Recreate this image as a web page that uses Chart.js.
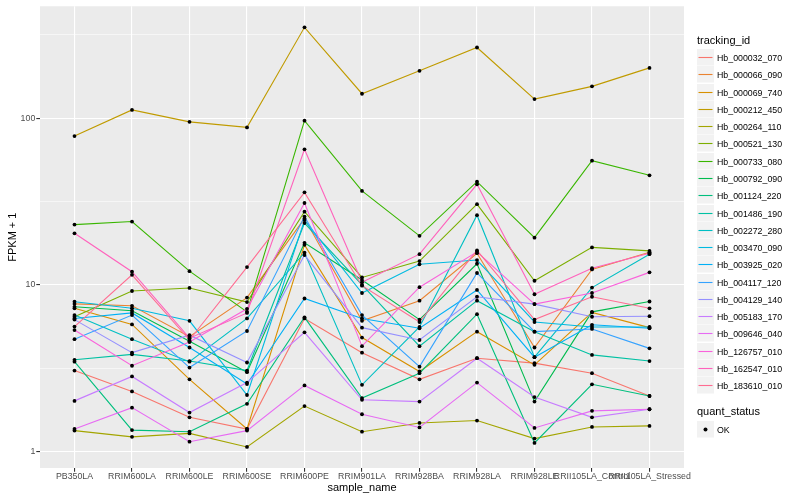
<!DOCTYPE html>
<html>
<head>
<meta charset="utf-8">
<title>FPKM + 1 by sample</title>
<script src="https://cdn.jsdelivr.net/npm/chart.js@4.4.1/dist/chart.umd.min.js"></script>
<style>
  body { margin: 0; background: #fff; }
  #wrap { position: relative; width: 800px; height: 500px; font-family: "Liberation Sans", Arial, Helvetica, sans-serif; }
  #chart { position: absolute; left: 0; top: 0; }
  .legend-title { position: absolute; left: 697px; font-size: 11px; line-height: 13px; color: #000; white-space: nowrap; }
  .legend-row { position: absolute; left: 697px; height: 17px; display: flex; align-items: center; }
  .legend-row svg { display: block; flex: none; }
  .legend-text { margin-left: 3px; font-size: 8.8px; color: #000; white-space: nowrap; }
</style>
</head>
<body>
<div id="wrap">
  <canvas id="chart" width="800" height="500"></canvas>
  <div id="legend"></div>
</div>
<script>
// Samples on the x axis
const sampleNames = ['PB350LA', 'RRIM600LA', 'RRIM600LE', 'RRIM600SE', 'RRIM600PE', 'RRIM901LA',
    'RRIM928BA', 'RRIM928LA', 'RRIM928LE', 'RRII105LA_Control', 'RRII105LA_Stressed'];

// FPKM + 1 per gene, one value per sample
const hb000032_070 = [3.07, 2.30, 1.61, 1.37, 6.3, 3.93, 2.72, 3.64, 3.4, 2.96, 2.16];
const hb000066_090 = [7.7, 7.5, 4.9, 8.4, 25, 6.1, 8.05, 15.5, 4.22, 12.4, 15.7];
const hb000069_740 = [7.25, 5.8, 2.72, 1.37, 17.4, 4.84, 3.03, 5.25, 3.32, 6.85, 5.55];
const hb000212_450 = [78, 112, 95, 88, 350, 140, 192, 265, 130, 155, 200];
const hb000264_110 = [1.34, 1.23, 1.29, 1.07, 1.88, 1.32, 1.49, 1.54, 1.2, 1.41, 1.43];
const hb000521_130 = [6.45, 9.2, 9.6, 7.9, 27.5, 11.1, 13.9, 30.5, 10.6, 16.8, 16.0];
const hb000733_080 = [23, 24, 12.1, 6.9, 96.5, 36.6, 19.7, 41.6, 19.2, 55.6, 45.4];
const hb000792_090 = [7.4, 7.0, 4.6, 3.0, 17.9, 10.7, 6.2, 13.4, 2.0, 6.9, 7.96];
const hb001124_220 = [3.47, 1.35, 1.32, 1.94, 6.4, 2.10, 2.96, 6.68, 1.13, 2.54, 2.16];
const hb001486_190 = [3.56, 3.84, 3.5, 3.07, 23.5, 10.0, 4.3, 8.05, 5.25, 3.81, 3.5];
const hb002272_280 = [6.6, 4.73, 3.47, 6.3, 15.6, 2.52, 5.6, 26.2, 3.69, 9.65, 15.3];
const hb003470_090 = [7.94, 7.25, 6.1, 2.19, 24.5, 8.95, 13.3, 14.1, 6.0, 5.6, 5.6];
const hb003925_020 = [6.3, 6.8, 4.22, 2.55, 8.3, 6.3, 5.5, 9.34, 3.69, 5.77, 5.5];
const hb004117_120 = [4.73, 6.6, 3.2, 5.3, 25.7, 6.6, 3.24, 11.8, 5.25, 5.45, 4.17];
const hb004129_140 = [6.2, 3.93, 5.0, 3.43, 15.1, 5.55, 4.68, 8.5, 7.68, 6.45, 6.5];
const hb005183_170 = [2.02, 2.83, 1.72, 2.6, 5.2, 2.05, 2.0, 3.64, 2.13, 1.61, 1.80];
const hb009646_040 = [1.37, 1.84, 1.15, 1.34, 2.5, 1.68, 1.40, 2.6, 1.39, 1.76, 1.80];
const hb126757_010 = [5.37, 3.28, 4.55, 7.2, 31, 4.3, 9.7, 15.8, 7.68, 8.95, 11.9];
const hb162547_010 = [20.4, 12.0, 4.8, 6.8, 65, 10.4, 15.3, 40.1, 8.8, 12.6, 15.5];
const hb183610_010 = [5.63, 11.5, 4.68, 12.8, 35.9, 9.9, 6.0, 16.1, 6.2, 8.5, 7.25];

const trackingIds = ['Hb_000032_070', 'Hb_000066_090', 'Hb_000069_740', 'Hb_000212_450', 'Hb_000264_110',
    'Hb_000521_130', 'Hb_000733_080', 'Hb_000792_090', 'Hb_001124_220', 'Hb_001486_190',
    'Hb_002272_280', 'Hb_003470_090', 'Hb_003925_020', 'Hb_004117_120', 'Hb_004129_140',
    'Hb_005183_170', 'Hb_009646_040', 'Hb_126757_010', 'Hb_162547_010', 'Hb_183610_010'];
const seriesValues = [hb000032_070, hb000066_090, hb000069_740, hb000212_450, hb000264_110,
    hb000521_130, hb000733_080, hb000792_090, hb001124_220, hb001486_190,
    hb002272_280, hb003470_090, hb003925_020, hb004117_120, hb004129_140,
    hb005183_170, hb009646_040, hb126757_010, hb162547_010, hb183610_010];

// y axis: labelled breaks and the minor grid in between
const yBreaks = [1, 10, 100];
const yMinorBreaks = [3.1623, 31.623, 316.23];

// ggplot default hue palette for 20 groups
const seriesColors = ['#F8766D', '#EA8331', '#D89000', '#C09B00', '#A3A500', '#7CAE00', '#39B600',
    '#00BB4E', '#00BF7D', '#00C1A3', '#00BFC4', '#00BAE0', '#00B0F6', '#35A2FF', '#9590FF',
    '#C77CFF', '#E76BF3', '#FA62DB', '#FF62BC', '#FF6C91'];

Chart.defaults.font.family = '"Liberation Sans", Arial, Helvetica, sans-serif';

function isMajor(v) {
    return yBreaks.some(b => Math.abs(b - v) < 1e-6);
}

// Grey panel behind the grid
const panelBackground = {
    id: 'panelBackground',
    beforeDraw(chart) {
        const { ctx, chartArea: a } = chart;
        ctx.save();
        ctx.fillStyle = '#EBEBEB';
        ctx.fillRect(a.left, a.top, a.right - a.left, a.bottom - a.top);
        ctx.restore();
    }
};

const toPoints = values => values.map((v, i) => ({ x: i, y: v }));

const lineSets = seriesValues.map((values, i) => ({
    label: trackingIds[i],
    data: toPoints(values),
    borderColor: seriesColors[i],
    borderWidth: 1.1,
    pointRadius: 0,
    tension: 0,
    order: 21 - i
}));

const pointSets = seriesValues.map((values, i) => ({
    label: trackingIds[i] + ' OK',
    data: toPoints(values),
    showLine: false,
    pointRadius: 1.9,
    pointBackgroundColor: '#000000',
    pointBorderWidth: 0,
    order: 0
}));

new Chart(document.getElementById('chart'), {
    type: 'line',
    data: { datasets: lineSets.concat(pointSets) },
    options: {
        responsive: false,
        animation: false,
        layout: { padding: { top: 5, right: 116, left: 0, bottom: 0 } },
        plugins: {
            legend: { display: false },
            tooltip: { enabled: false }
        },
        scales: {
            x: {
                type: 'linear',
                bounds: 'data',
                min: -0.6,
                max: 10.6,
                afterBuildTicks: scale => {
                    scale.ticks = sampleNames.map((name, i) => ({ value: i }));
                },
                afterFit: scale => { scale.height = 32; },
                ticks: {
                    autoSkip: false,
                    maxRotation: 0,
                    minRotation: 0,
                    padding: 0,
                    color: '#4D4D4D',
                    font: { size: 8.8 },
                    callback: value => sampleNames[value]
                },
                grid: {
                    color: '#FFFFFF',
                    lineWidth: 1.1,
                    tickColor: '#333333',
                    tickLength: 3.7
                },
                border: { display: false },
                title: {
                    display: true,
                    text: 'sample_name',
                    color: '#000000',
                    font: { size: 11 },
                    padding: { top: 0, bottom: 5 }
                }
            },
            y: {
                type: 'logarithmic',
                bounds: 'data',
                min: 0.80,
                max: 468,
                afterBuildTicks: scale => {
                    scale.ticks = yBreaks.concat(yMinorBreaks)
                        .sort((a, b) => a - b)
                        .map(v => ({ value: v }));
                },
                afterFit: scale => { scale.width = 40; },
                ticks: {
                    autoSkip: false,
                    padding: 1,
                    color: '#4D4D4D',
                    font: { size: 8.8 },
                    callback: value => isMajor(value) ? String(Math.round(value)) : ''
                },
                grid: {
                    color: '#FFFFFF',
                    lineWidth: ctx => isMajor(ctx.tick.value) ? 1.1 : 0.55,
                    tickColor: ctx => isMajor(ctx.tick.value) ? '#333333' : 'rgba(0,0,0,0)',
                    tickLength: 3.7
                },
                border: { display: false },
                title: {
                    display: true,
                    text: 'FPKM + 1',
                    color: '#000000',
                    font: { size: 11 },
                    padding: { top: 6, bottom: 0 }
                }
            }
        }
    },
    plugins: [panelBackground]
});

// Legend drawn as HTML, ggplot style; rows snapped to whole pixels
const legend = document.getElementById('legend');
const rowStep = 17.28;
const firstRowTop = 49;
const svgNS = 'http://www.w3.org/2000/svg';

function svgEl(tag, attrs) {
    const el = document.createElementNS(svgNS, tag);
    Object.keys(attrs).forEach(k => el.setAttribute(k, attrs[k]));
    return el;
}

function makeKey(drawInner) {
    const svg = svgEl('svg', { width: 17, height: 17, viewBox: '0 0 17 17' });
    svg.appendChild(svgEl('rect', { x: 0, y: 0, width: 17, height: 16.5, fill: '#F2F2F2' }));
    drawInner(svg);
    return svg;
}

function addTitle(text, top) {
    const el = document.createElement('div');
    el.className = 'legend-title';
    el.style.top = top + 'px';
    el.textContent = text;
    legend.appendChild(el);
}

function addRow(text, top, key) {
    const row = document.createElement('div');
    row.className = 'legend-row';
    row.style.top = Math.round(top) + 'px';
    const label = document.createElement('span');
    label.className = 'legend-text';
    label.textContent = text;
    row.appendChild(key);
    row.appendChild(label);
    legend.appendChild(row);
}

addTitle('tracking_id', 34);
trackingIds.forEach((id, i) => {
    const key = makeKey(svg => {
        svg.appendChild(svgEl('line', { x1: 1.5, x2: 15.5, y1: 8.5, y2: 8.5,
            stroke: seriesColors[i], 'stroke-width': 1.1 }));
    });
    addRow(id, firstRowTop + rowStep * i, key);
});

addTitle('quant_status', 405);
addRow('OK', 421, makeKey(svg => {
    svg.appendChild(svgEl('circle', { cx: 8.5, cy: 8.5, r: 2, fill: '#000000' }));
}));
</script>
</body>
</html>
